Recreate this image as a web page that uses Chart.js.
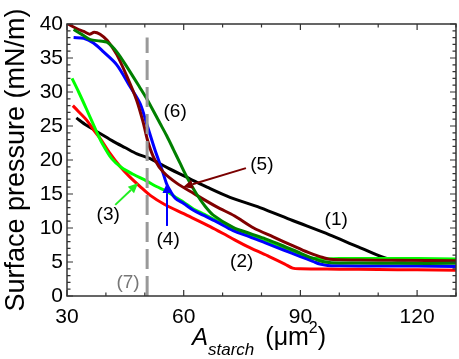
<!DOCTYPE html>
<html><head><meta charset="utf-8">
<script src="https://cdn.jsdelivr.net/npm/chart.js@4.4.1/dist/chart.umd.min.js"></script>
<style>html,body{margin:0;padding:0;background:#fff;}#wrap{width:459px;height:359px;}</style>
</head><body><div id="wrap"><canvas id="c" width="459" height="359"></canvas></div>
<script>
// ---- data ----
const xTicks = [30, 60, 90, 120];
const yTicks = [0, 5, 10, 15, 20, 25, 30, 35, 40];

const s1x = [32.4, 35, 38.5, 42, 45, 48, 51.4, 56, 61.7, 66, 71.9, 79.6, 88, 97.5, 105, 113, 120, 130];
const s1y = [26.2, 25.1, 23.9, 22.7, 21.8, 20.9, 20.2, 18.8, 17.2, 16.0, 14.5, 13.0, 11.1, 9.0, 7.2, 5.4, 5.35, 5.3];

const s2x = [31.5, 33, 35, 37, 38.5, 41, 43.7, 46, 48.8, 51.4, 55, 60, 66.8, 72, 77, 82, 86, 88, 90, 100, 110, 120, 130];
const s2y = [28.0, 27.1, 25.9, 24.3, 23.2, 21.0, 19.0, 17.6, 16.1, 14.8, 13.5, 12.1, 10.2, 8.6, 7.1, 5.8, 4.7, 4.1, 4.0, 3.95, 3.9, 3.85, 3.8];

const s3x = [31.3, 33, 35, 37.5, 39, 41.5, 44, 47, 50.5, 53, 55.6, 58, 60, 62.5, 65, 68.5, 72.7, 77, 81, 85.5, 89, 92, 95, 100, 110, 120, 130];
const s3y = [32.0, 30.0, 27.5, 24.3, 22.5, 20.2, 18.9, 17.9, 16.9, 16.1, 15.4, 14.5, 13.8, 12.8, 12.1, 11.1, 9.8, 8.9, 8.0, 7.0, 6.2, 5.6, 5.5, 5.5, 5.5, 5.5, 5.45];

const s4x = [31.7, 34.3, 36.8, 39.4, 42.8, 46.2, 48.8, 50.5, 52.6, 54.4, 55.6, 56.5, 57.8, 60, 62.5, 65, 68.5, 72.7, 77, 81, 85.5, 90, 93.2, 95, 97, 100, 110, 120, 130];
const s4y = [38.0, 37.9, 37.2, 35.9, 34.0, 30.8, 28.3, 25.3, 21.5, 18.6, 16.5, 15.5, 14.4, 13.6, 12.6, 11.9, 10.9, 9.6, 8.7, 7.8, 6.8, 5.8, 5.1, 4.7, 4.5, 4.45, 4.4, 4.4, 4.35];

const s5x = [30.2, 32.6, 34.3, 35.8, 37, 38.5, 40.3, 42.8, 45.4, 47.9, 49.6, 50.9, 52.6, 54.8, 58.2, 62.5, 68.5, 73, 78, 83, 88, 92, 95, 97.5, 105, 115, 130];
const s5y = [40.0, 39.3, 38.9, 38.5, 38.8, 38.5, 37.6, 35.5, 32.3, 28.8, 25.5, 22.5, 20.0, 18.2, 16.6, 15.1, 13.1, 11.8, 10.0, 8.7, 7.4, 6.4, 5.8, 5.4, 5.3, 5.25, 5.2];

const s6x = [31.7, 34, 36, 38.5, 40.3, 42.8, 45.4, 48.8, 50.5, 53.9, 55.6, 57.4, 59, 60.8, 63.3, 65.5, 67.6, 72.7, 77, 81, 85, 90, 93, 95.4, 98, 105, 115, 130];
const s6y = [39.2, 38.4, 37.7, 37.5, 37.3, 35.9, 33.7, 30.6, 29.0, 25.4, 23.6, 21.5, 19.6, 17.5, 15.0, 13.2, 11.9, 10.1, 9.2, 8.4, 7.5, 6.3, 5.6, 5.1, 4.9, 4.85, 4.8, 4.8];

const s7x = [50.6, 50.6];
const s7y = [0, 38];

// annotations in data units
const labelText = ['(1)', '(2)', '(3)', '(4)', '(5)', '(6)', '(7)'];
const labelX = [99.2, 74.9, 40.6, 56.0, 80.1, 57.8, 45.7];
const labelY = [11.2, 5.0, 11.9, 8.2, 19.3, 27.1, 1.9];
const arrowFromX = [76.0, 42.4, 55.7];
const arrowFromY = [18.8, 13.4, 10.3];
const arrowToX = [59.8, 48.3, 55.7];
const arrowToY = [16.0, 16.6, 16.6];
const arrowColor = ['#7a0000', '#22ee22', '#0000ff'];

// ---- chart ----
const FONT = "'Liberation Sans', Arial, sans-serif";
function pts(xs, ys) { return xs.map((x, i) => ({x: x, y: ys[i]})); }
function ds(xs, ys, color, extra) {
  return Object.assign({data: pts(xs, ys), borderColor: color, backgroundColor: color,
    borderWidth: 3, pointRadius: 0, showLine: true, tension: 0.3, fill: false}, extra || {});
}

const overlay = {
  id: 'overlay',
  afterDatasetsDraw(chart) {
    const ctx = chart.ctx, a = chart.chartArea, xs = chart.scales.x, ys = chart.scales.y;
    ctx.save();
    // frame
    ctx.strokeStyle = '#333'; ctx.lineWidth = 1.5;
    ctx.strokeRect(a.left, a.top, a.right - a.left, a.bottom - a.top);
    // ticks (inward)
    ctx.lineWidth = 1.2;
    ctx.beginPath();
    for (let v = 30; v <= 130; v += 10) {
      const p = xs.getPixelForValue(v);
      const L = (v % 30 === 0) ? 6 : 3.5;
      ctx.moveTo(p, a.bottom); ctx.lineTo(p, a.bottom - L);
      ctx.moveTo(p, a.top); ctx.lineTo(p, a.top + L);
    }
    for (let v = 0; v <= 40; v += 1) {
      const p = ys.getPixelForValue(v);
      const L = (v % 5 === 0) ? 6 : 3.5;
      ctx.moveTo(a.left, p); ctx.lineTo(a.left + L, p);
      ctx.moveTo(a.right, p); ctx.lineTo(a.right - L, p);
    }
    ctx.stroke();
    // arrows
    for (let i = 0; i < arrowFromX.length; i++) {
      const x0 = xs.getPixelForValue(arrowFromX[i]), y0 = ys.getPixelForValue(arrowFromY[i]);
      const x1 = xs.getPixelForValue(arrowToX[i]), y1 = ys.getPixelForValue(arrowToY[i]);
      const ang = Math.atan2(y1 - y0, x1 - x0), hl = 10, hw = 4.5;
      const bx = x1 - hl * Math.cos(ang), by = y1 - hl * Math.sin(ang);
      ctx.strokeStyle = arrowColor[i]; ctx.fillStyle = arrowColor[i]; ctx.lineWidth = 2;
      ctx.beginPath(); ctx.moveTo(x0, y0); ctx.lineTo(bx, by); ctx.stroke();
      ctx.beginPath(); ctx.moveTo(x1, y1);
      ctx.lineTo(bx + hw * Math.sin(ang), by - hw * Math.cos(ang));
      ctx.lineTo(bx - hw * Math.sin(ang), by + hw * Math.cos(ang));
      ctx.closePath(); ctx.fill();
    }
    // labels
    ctx.font = '19px ' + FONT; ctx.textAlign = 'center'; ctx.textBaseline = 'middle';
    for (let i = 0; i < labelText.length; i++) {
      ctx.fillStyle = (i === 6) ? '#777' : '#000';
      ctx.fillText(labelText[i], xs.getPixelForValue(labelX[i]), ys.getPixelForValue(labelY[i]));
    }
    // x title: A_starch (μm²)
    ctx.fillStyle = '#000'; ctx.textAlign = 'left'; ctx.textBaseline = 'alphabetic';
    let x = 192, base = 345;
    ctx.font = 'italic 24px ' + FONT; ctx.fillText('A', x, base); x += ctx.measureText('A').width;
    ctx.font = 'italic 17px ' + FONT; ctx.fillText('starch', x, base + 10); x += ctx.measureText('starch').width + 11;
    ctx.font = '25px ' + FONT; ctx.fillText('(\u03bcm', x, base); x += ctx.measureText('(\u03bcm').width;
    ctx.font = '16px ' + FONT; ctx.fillText('2', x, base - 12); x += ctx.measureText('2').width;
    ctx.font = '25px ' + FONT; ctx.fillText(')', x, base);
    ctx.restore();
  }
};

new Chart(document.getElementById('c'), {
  type: 'scatter',
  data: { datasets: [
    ds(s7x, s7y, '#999999', {borderDash: [20, 7], tension: 0, borderWidth: 3}),
    ds(s6x, s6y, '#008000'),
    ds(s5x, s5y, '#800000'),
    ds(s4x, s4y, '#0000ff'),
    ds(s3x, s3y, '#00ff00'),
    ds(s2x, s2y, '#ff0000'),
    ds(s1x, s1y, '#000000')
  ]},
  options: {
    responsive: false, animation: false, devicePixelRatio: 1,
    layout: {padding: {top: 24, right: 3, left: 0, bottom: 0}},
    plugins: {legend: {display: false}, tooltip: {enabled: false}},
    scales: {
      x: { type: 'linear', min: 30, max: 130,
        grid: {display: false, drawTicks: false}, border: {display: false},
        ticks: {font: {size: 21, family: FONT}, color: '#000', padding: 9, maxRotation: 0},
        afterBuildTicks: s => { s.ticks = xTicks.map(v => ({value: v})); },
        afterFit: s => { s.height = 63; } },
      y: { type: 'linear', min: 0, max: 40,
        grid: {display: false, drawTicks: false}, border: {display: false},
        ticks: {font: {size: 21, family: FONT}, color: '#000', padding: 4},
        afterBuildTicks: s => { s.ticks = yTicks.map(v => ({value: v})); },
        title: {display: true, text: 'Surface pressure (mN/m)', color: '#000', font: {size: 27, family: FONT}, padding: {top: 0, bottom: 0}},
        afterFit: s => { s.width = 67; } }
    }
  },
  plugins: [overlay]
});
</script></body></html>
